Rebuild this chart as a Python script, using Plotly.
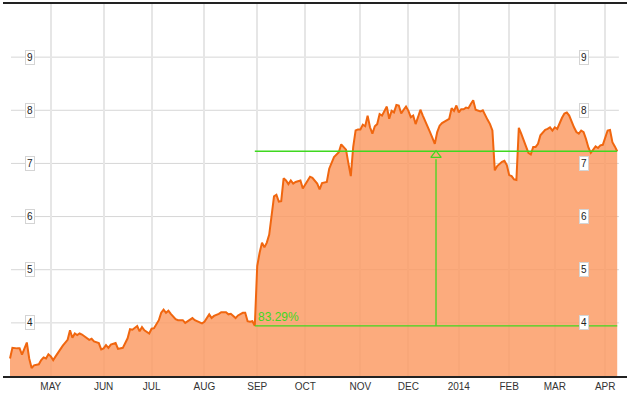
import plotly.graph_objects as go

# trading-day index (0 = first session shown) and closing price
trading_day = [0, 1, 3, 4, 5, 6, 7, 8, 9, 10, 12, 13, 14, 15, 16, 17, 18, 19, 21, 22, 24, 25, 26, 27, 28, 29, 30,
               32, 33, 34, 35, 37, 38, 39, 40, 41, 42, 44, 45, 47, 48, 49, 50, 51, 53, 54, 55, 56, 58, 59, 60,
               62, 63, 64, 65, 66, 67, 69, 70, 72, 73, 74, 75, 76, 77, 78, 80, 81, 82, 83, 84, 85, 87, 88, 90,
               91, 92, 93, 94, 95, 97, 98, 99, 100, 101, 102, 103, 104, 105, 106, 107, 108, 109, 110, 111, 112,
               113, 114, 115, 116, 117, 118, 119, 121, 122, 123, 124, 125, 126, 128, 129, 130, 132, 133, 135,
               136, 137, 138, 140, 141, 142, 143, 144, 145, 146, 147, 148, 149, 150, 151, 152, 153, 154, 155,
               156, 157, 158, 159, 160, 161, 162, 163, 164, 165, 166, 167, 168, 169, 170, 171, 172, 174, 175,
               176, 177, 178, 179, 180, 182, 183, 184, 185, 186, 187, 188, 189, 190, 191, 192, 193, 194, 196,
               197, 198, 199, 200, 201, 202, 203, 205, 206, 207, 208, 209, 210, 211, 212, 213, 214, 215, 216,
               217, 218, 219, 220, 221, 223, 224, 225, 226, 227, 228, 229, 230, 231, 232, 233, 234, 235, 236,
               237, 238, 239, 240, 241, 242, 243, 244, 245, 246, 247, 248, 249, 250, 251, 252, 253]
price = [3.33, 3.53, 3.52, 3.52, 3.40, 3.52, 3.63, 3.33, 3.15, 3.20, 3.22, 3.30, 3.35, 3.33, 3.41, 3.37, 3.30,
         3.37, 3.52, 3.57, 3.68, 3.86, 3.72, 3.80, 3.77, 3.80, 3.78, 3.71, 3.68, 3.70, 3.65, 3.62, 3.50, 3.52,
         3.58, 3.53, 3.59, 3.62, 3.51, 3.53, 3.62, 3.71, 3.88, 3.87, 3.94, 3.84, 3.92, 3.86, 3.80, 3.89, 3.90,
         4.05, 4.19, 4.25, 4.19, 4.23, 4.17, 4.07, 4.05, 4.05, 4.00, 4.03, 4.07, 4.09, 4.05, 4.03, 3.99, 4.02,
         4.08, 4.16, 4.09, 4.13, 4.17, 4.20, 4.20, 4.16, 4.17, 4.13, 4.09, 4.14, 4.19, 4.19, 4.03, 4.02, 4.03,
         3.944, 5.07, 5.32, 5.51, 5.42, 5.51, 5.66, 6.00, 6.38, 6.41, 6.28, 6.29, 6.72, 6.68, 6.61, 6.68, 6.62,
         6.65, 6.68, 6.53, 6.61, 6.69, 6.75, 6.73, 6.62, 6.51, 6.63, 6.65, 6.90, 7.12, 7.17, 7.21, 7.36, 7.26,
         7.00, 6.76, 7.31, 7.62, 7.64, 7.64, 7.73, 7.70, 7.90, 7.68, 7.56, 7.70, 7.74, 7.93, 7.90, 7.99, 8.07,
         7.84, 7.99, 7.96, 8.10, 8.09, 7.94, 8.01, 8.07, 7.99, 7.87, 7.90, 7.74, 7.87, 8.01, 7.90, 7.71, 7.59,
         7.48, 7.37, 7.59, 7.71, 7.76, 7.82, 7.84, 8.04, 7.99, 8.09, 7.96, 8.02, 8.02, 8.05, 8.04, 8.12, 8.19,
         8.01, 7.98, 8.00, 7.90, 7.82, 7.74, 7.62, 6.87, 6.95, 7.03, 7.05, 6.97, 6.78, 6.76, 6.70, 6.69, 7.67,
         7.56, 7.43, 7.33, 7.20, 7.17, 7.31, 7.31, 7.37, 7.53, 7.63, 7.65, 7.68, 7.62, 7.68, 7.65, 7.77, 7.86,
         7.94, 7.96, 7.90, 7.77, 7.68, 7.59, 7.56, 7.62, 7.59, 7.46, 7.30, 7.20, 7.25, 7.32, 7.29, 7.34, 7.35,
         7.50, 7.62, 7.63, 7.40, 7.32, 7.229]

# first session of each month (trading-day index) and their labels
month_start_day = [17, 39, 59, 81, 103, 123, 146, 166, 187, 208, 227, 248]
month_labels = ["MAY", "JUN", "JUL", "AUG", "SEP", "OCT", "NOV", "DEC", "2014", "FEB", "MAR", "APR"]

y_ticks = [4, 5, 6, 7, 8, 9]

# measurement tool: from this session to the last one
measure_start_day = 102

LINE = "#f0660f"
FILL = "rgba(251,152,96,0.82)"
GREEN = "#3fd81f"

Y_MIN, Y_MAX = 3, 10
PLOT_H = 394 - 2 - 16
px_per_unit = PLOT_H / (Y_MAX - Y_MIN)

i0 = trading_day.index(measure_start_day)
x0, v0 = trading_day[i0], price[i0]
x1, v1 = trading_day[-1], price[-1]
xm = (x0 + x1) / 2
pct = (v1 / v0 - 1) * 100

fig = go.Figure()
fig.add_trace(go.Scatter(
    x=trading_day, y=price, mode="lines",
    line=dict(color=LINE, width=2),
    fill="tozeroy", fillcolor=FILL, hoverinfo="skip",
))
# arrow head of the measurement
fig.add_trace(go.Scatter(
    x=[xm], y=[v1 - 4 / px_per_unit], mode="markers",
    marker=dict(symbol="triangle-up-open", size=9, color=GREEN, line=dict(width=1.3, color=GREEN)),
    hoverinfo="skip",
))

shapes = []
for t in y_ticks:
    shapes.append(dict(type="line", xref="paper", yref="y", x0=0.0128, x1=0.987, y0=t, y1=t,
                       line=dict(color="#d6d6d6", width=1), layer="below"))
shapes += [
    dict(type="line", xref="x", yref="y", x0=x0, x1=x1, y0=v1, y1=v1, line=dict(color=GREEN, width=1.3)),
    dict(type="line", xref="x", yref="y", x0=x0, x1=x1, y0=v0, y1=v0, line=dict(color=GREEN, width=1.3)),
    dict(type="line", xref="x", yref="y", x0=xm, x1=xm, y0=v0, y1=v1 - 8 / px_per_unit,
         line=dict(color=GREEN, width=1.3)),
]

annotations = []
for t in y_ticks:
    for xp in (0.0345, 0.939):
        annotations.append(dict(
            xref="paper", yref="y", x=xp, y=t, text=str(t), showarrow=False,
            bgcolor="white", bordercolor="#d4d4d4", borderwidth=1, borderpad=1,
            font=dict(family="Liberation Sans, Arial", size=10, color="#222"),
        ))
annotations.append(dict(
    xref="x", yref="y", x=x0 + 0.3, y=v0, text=f"{pct:.2f}%", showarrow=False,
    xanchor="left", yanchor="bottom", yshift=0,
    font=dict(family="Liberation Sans, Arial", size=12, color=GREEN),
))

fig.update_layout(
    width=629, height=394,
    margin=dict(l=3, r=2, t=2, b=16),
    paper_bgcolor="white", plot_bgcolor="white",
    showlegend=False,
    shapes=shapes, annotations=annotations,
    xaxis=dict(
        range=[-2.92, 257.08], tickmode="array", tickvals=month_start_day, ticktext=month_labels,
        showgrid=True, gridcolor="#e6e6e6", gridwidth=2, zeroline=False,
        showline=True, mirror=True, linecolor="#222", linewidth=1.5,
        ticks="", tickfont=dict(family="Liberation Sans, Arial", size=10, color="#333"),
        fixedrange=True,
    ),
    yaxis=dict(
        range=[Y_MIN, Y_MAX], showgrid=False, zeroline=False, showticklabels=False,
        showline=False, fixedrange=True,
    ),
)

fig.write_html("out.html")
